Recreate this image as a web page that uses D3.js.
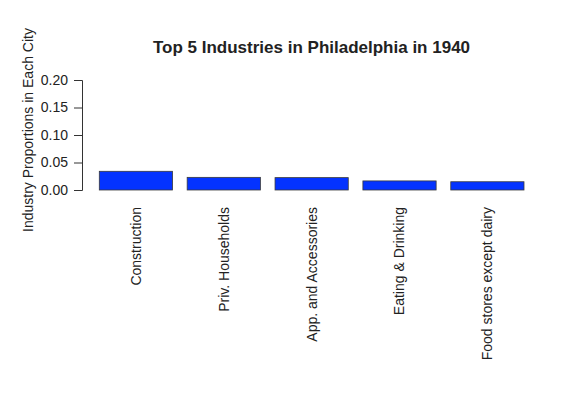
<!DOCTYPE html>
<html>
<head>
<meta charset="utf-8">
<script src="https://cdn.jsdelivr.net/npm/d3@7"></script>
<style>
  body { margin: 0; background: #fff; }
  svg text { font-family: "Liberation Sans", Arial, Helvetica, sans-serif; fill: #222; }
</style>
</head>
<body>
<div id="chart"></div>
<script>
// Data
const industries = ["Construction", "Priv. Households", "App. and Accessories", "Eating & Drinking", "Food stores except dairy"];
const proportions = [0.034, 0.023, 0.0225, 0.0165, 0.015];
const yTicks = [0.00, 0.05, 0.10, 0.15, 0.20];

const width = 573, height = 403;

const svg = d3.select("#chart").append("svg")
    .attr("width", width)
    .attr("height", height);

const xScale = d3.scaleBand()
    .domain(industries)
    .range([99.3, 524])
    .paddingInner(0.2 / 1.2)
    .paddingOuter(0);

const yScale = d3.scaleLinear()
    .domain([0, 0.2])
    .range([190, 80]);

// y axis
const yAxis = d3.axisLeft(yScale)
    .tickValues(yTicks)
    .tickFormat(d3.format(".2f"))
    .tickSizeOuter(0)
    .tickSize(8)
    .tickPadding(6);

const gy = svg.append("g")
    .attr("transform", "translate(82,0)")
    .call(yAxis);
gy.select(".domain").attr("stroke", "#333");
gy.selectAll(".tick line").attr("stroke", "#333");
gy.selectAll(".tick text")
    .attr("font-size", 14)
    .attr("font-family", "Liberation Sans, Arial, sans-serif")
    .attr("fill", "#222");

// bars
svg.selectAll(".bar")
    .data(industries)
    .enter()
    .append("rect")
    .attr("class", "bar")
    .attr("x", d => xScale(d))
    .attr("width", xScale.bandwidth())
    .attr("y", (d, i) => yScale(proportions[i]))
    .attr("height", (d, i) => yScale(0) - yScale(proportions[i]))
    .attr("fill", "#0433ff")
    .attr("stroke", "#3a3a3a")
    .attr("stroke-width", 0.8);

// category labels, rotated
svg.selectAll(".cat-label")
    .data(industries)
    .enter()
    .append("text")
    .attr("class", "cat-label")
    .attr("text-anchor", "end")
    .attr("font-size", 14)
    .attr("dy", "0.35em")
    .attr("transform", d => `translate(${xScale(d) + xScale.bandwidth() / 2},207) rotate(-90)`)
    .text(d => d);

// y axis label
svg.append("text")
    .attr("text-anchor", "middle")
    .attr("font-size", 14)
    .attr("transform", "translate(33,130) rotate(-90)")
    .text("Industry Proportions in Each City");

// title
svg.append("text")
    .attr("text-anchor", "middle")
    .attr("font-size", 17)
    .attr("font-weight", "bold")
    .attr("x", 311.5)
    .attr("y", 53)
    .text("Top 5 Industries in Philadelphia in 1940");
</script>
</body>
</html>
